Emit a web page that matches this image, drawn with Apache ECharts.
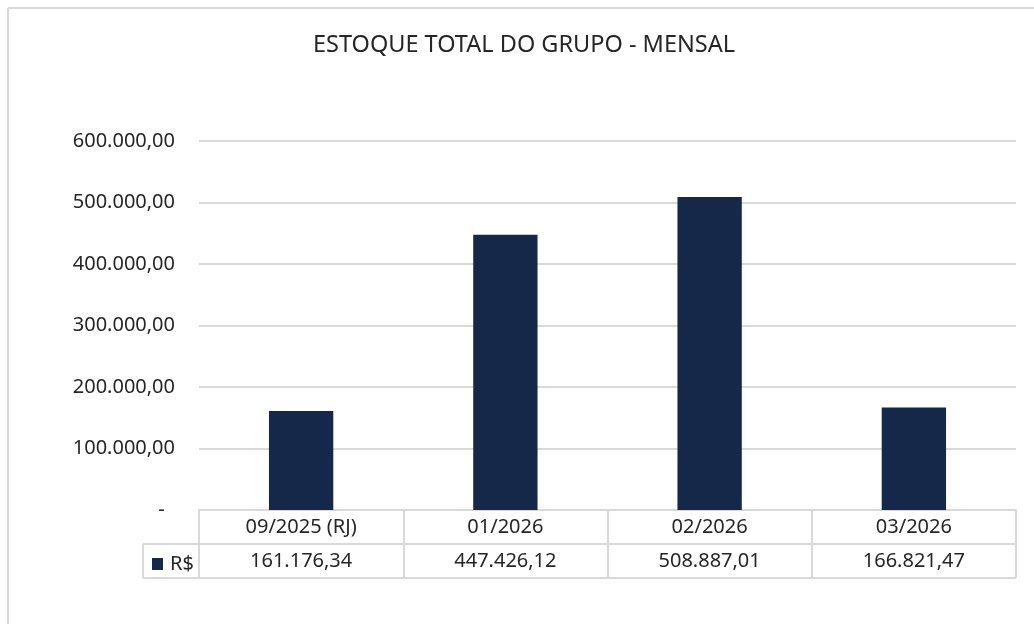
<!DOCTYPE html>
<html><head><meta charset="utf-8">
<script src="https://cdn.jsdelivr.net/npm/echarts@6/dist/echarts.min.js"></script>
<style>html,body{margin:0;padding:0;background:#fff}#c{width:1034px;height:624px}</style>
</head><body><div id="c"></div>
<script>
const title = 'ESTOQUE TOTAL DO GRUPO - MENSAL';
const categories = ['09/2025 (RJ)', '01/2026', '02/2026', '03/2026'];
const seriesName = 'R$';
const values = [161176.34, 447426.12, 508887.01, 166821.47];
const yMin = 0, yMax = 600000, yStep = 100000;

function fmtBR(v) {
  const neg = v < 0; v = Math.abs(v);
  const parts = v.toFixed(2).split('.');
  const int = parts[0].replace(/\B(?=(\d{3})+(?!\d))/g, '.');
  return (neg ? '-' : '') + int + ',' + parts[1];
}

const FONT = 'Noto Sans';
const TXT = '#262626';
const LINE = '#d9d9d9';
const G = {left: 199, right: 18, top: 141, bottom: 114};
const W = 1034, H = 624;
const axisY = H - G.bottom;
const rowH = 34;

const chart = echarts.init(document.getElementById('c'), null, {renderer: 'canvas'});
chart.setOption({
  animation: false,
  backgroundColor: '#fff',
  title: {
    text: title, left: 313, top: 33, padding: 0,
    textStyle: {fontFamily: FONT, fontSize: 23.5, fontWeight: 'normal', color: TXT}
  },
  legend: {
    data: [{name: seriesName, icon: 'rect'}],
    left: 152, top: axisY + rowH + 10, padding: 0,
    itemWidth: 11, itemHeight: 12, itemGap: 4,
    textStyle: {fontFamily: FONT, fontSize: 20, lineHeight: 14, color: TXT, padding: [0, 0, 0, 2]},
    selectedMode: false
  },
  grid: {left: G.left, right: G.right, top: G.top, bottom: G.bottom, containLabel: false},
  xAxis: {
    type: 'category', data: categories,
    axisLine: {show: true, lineStyle: {color: LINE, width: 2}},
    axisTick: {show: true, length: rowH * 2, lineStyle: {color: LINE, width: 2}},
    axisLabel: {
      margin: 0,
      formatter: function (v, i) { return '{c|' + v + '}\n{v|' + fmtBR(values[i]) + '}'; },
      rich: {
        c: {fontFamily: FONT, fontSize: 20, color: TXT, lineHeight: rowH, height: rowH},
        v: {fontFamily: FONT, fontSize: 20, color: TXT, lineHeight: rowH, height: rowH}
      }
    },
    splitLine: {show: false}
  },
  yAxis: {
    type: 'value', min: yMin, max: yMax, interval: yStep,
    axisLine: {show: false}, axisTick: {show: false},
    axisLabel: {
      margin: 24, fontFamily: FONT, fontSize: 20, color: TXT,
      formatter: function (v) { return v === 0 ? '-  ' : fmtBR(v); }
    },
    splitLine: {lineStyle: {color: LINE, width: 2}}
  },
  series: [{
    name: seriesName, type: 'bar', data: values, barWidth: '31.5%',
    itemStyle: {color: '#15284a'}
  }],
  graphic: [
    {type: 'line', shape: {x1: 8, y1: 8, x2: W, y2: 8}, style: {stroke: LINE, lineWidth: 2}},
    {type: 'line', shape: {x1: 8, y1: 8, x2: 8, y2: H}, style: {stroke: LINE, lineWidth: 2}},
    {type: 'line', shape: {x1: 143, y1: axisY + rowH, x2: W - G.right, y2: axisY + rowH}, style: {stroke: LINE, lineWidth: 2}},
    {type: 'line', shape: {x1: 143, y1: axisY + 2 * rowH, x2: W - G.right, y2: axisY + 2 * rowH}, style: {stroke: LINE, lineWidth: 2}},
    {type: 'line', shape: {x1: 143, y1: axisY + rowH, x2: 143, y2: axisY + 2 * rowH}, style: {stroke: LINE, lineWidth: 2}}
  ]
});
</script>
</body></html>
